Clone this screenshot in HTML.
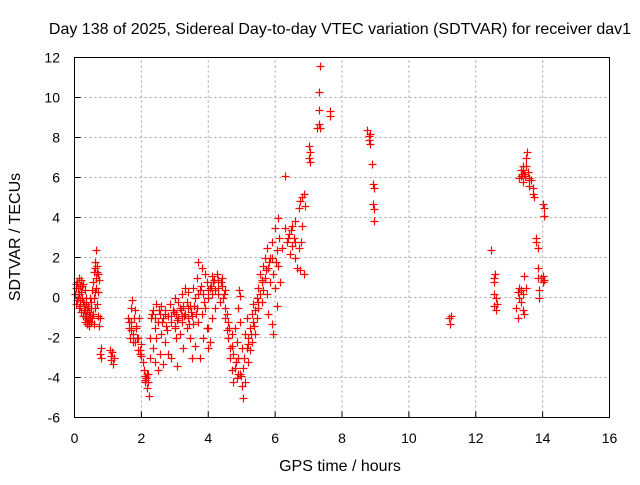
<!DOCTYPE html>
<html><head><meta charset="utf-8"><style>
body{margin:0;background:#fff}
svg text{font-family:"Liberation Sans",sans-serif;font-size:14px;fill:#000}
svg text.big{font-size:16px}
</style></head><body>
<svg id="chart" width="640" height="480" xmlns="http://www.w3.org/2000/svg">
<text class="big" x="340" y="34" text-anchor="middle">Day 138 of 2025, Sidereal Day-to-day VTEC variation (SDTVAR) for receiver dav1</text>
<text class="big" x="340" y="471" text-anchor="middle">GPS time / hours</text>
<text class="big" x="20" y="237" text-anchor="middle" transform="rotate(-90 20 237)">SDTVAR / TECUs</text>
<g id="grid"></g><g id="ticks"></g><g id="marks"></g>
<rect x="74.5" y="57.5" width="535" height="360" fill="none" stroke="#000" stroke-width="1"/>
</svg>
<script>
const xTicks=[0,2,4,6,8,10,12,14,16];
const yTicks=[-6,-4,-2,0,2,4,6,8,10,12];
const times=[0.02,0.05,0.05,0.08,0.1,0.12,0.12,0.15,0.15,0.18,0.2,0.2,0.22,0.25,0.25,0.28,0.3,0.3,0.32,0.35,0.35,0.38,0.4,0.42,0.42,0.45,0.45,0.48,0.5,0.5,0.52,0.55,0.55,0.58,0.58,0.6,0.6,0.62,0.63,0.65,0.65,0.68,0.68,0.7,0.7,0.72,0.72,0.75,0.75,0.78,0.78,0.33,0.37,0.4,0.44,
0.03,0.07,0.1,0.14,0.17,0.21,0.24,0.27,0.31,0.34,0.37,0.41,0.44,0.47,0.52,0.57,0.62,0.66,0.69,
1.05,1.08,1.1,1.12,1.15,1.18,
1.6,1.62,1.65,1.68,1.7,1.72,1.75,1.78,1.8,1.82,1.85,1.88,1.9,1.92,1.95,1.98,2.0,
1.64,1.7,1.76,1.83,1.9,1.97,
2.05,2.08,2.1,2.12,2.15,2.18,2.2,2.22,2.25,2.25,2.11,2.16,2.2,
2.3,2.35,2.35,2.4,2.4,2.45,2.45,2.5,2.5,2.55,2.55,2.6,2.6,2.65,2.65,2.7,2.7,2.75,2.8,2.8,
2.32,2.42,2.52,2.62,2.72,2.78,
2.85,2.9,2.9,2.95,3.0,3.0,3.05,3.05,3.1,3.1,3.15,3.15,3.2,3.2,3.25,3.25,3.3,3.3,3.35,3.35,3.4,3.4,3.45,3.45,3.5,3.5,3.55,3.55,3.6,3.6,3.65,3.65,3.7,3.7,3.75,3.75,3.8,3.8,3.85,3.85,3.9,3.9,3.95,3.95,4.0,4.0,3.07,
2.88,2.98,3.08,3.18,3.28,3.38,3.48,3.58,3.68,3.78,3.88,3.98,3.02,3.22,3.42,3.62,
4.05,4.1,4.1,4.15,4.2,4.2,4.25,4.3,4.3,4.35,4.4,4.4,4.45,4.5,4.5,4.0,4.05,4.1,
4.08,4.18,4.28,4.38,4.48,
4.5,4.55,4.55,4.6,4.6,4.65,4.65,4.7,4.7,4.75,4.75,4.8,4.8,4.85,4.85,4.9,4.9,4.95,4.95,5.0,5.0,5.05,5.05,5.1,5.1,4.92,4.95,
4.62,4.72,4.82,4.88,4.98,5.08,
5.15,5.15,5.2,5.2,5.25,5.25,5.3,5.3,5.35,5.35,5.4,5.4,5.45,5.45,5.5,5.5,
5.18,5.28,5.38,5.48,
5.55,5.55,5.6,5.6,5.65,5.65,5.7,5.7,5.75,5.75,5.8,5.8,5.85,5.85,5.9,5.9,5.95,5.95,6.0,6.0,6.05,6.05,6.1,6.1,6.15,6.2,
5.62,5.72,5.82,5.92,6.02,6.12,
6.3,6.3,6.35,6.4,6.45,6.5,6.5,6.55,6.6,6.6,6.65,6.7,6.7,6.75,6.75,6.8,6.8,6.85,6.85,6.9,
6.38,6.48,6.58,6.78,
7.0,7.0,7.05,7.05,7.25,7.3,7.3,7.32,7.35,7.35,7.65,7.65,
8.75,8.8,8.8,8.85,8.85,8.9,8.92,8.95,8.92,8.95,8.95,
11.2,11.22,11.25,
12.47,12.55,12.55,12.58,12.55,12.6,12.55,12.6,12.65,
13.2,13.25,13.25,13.3,13.3,13.35,13.35,13.4,13.4,13.45,13.45,13.5,
13.3,13.35,13.35,13.4,13.4,13.45,13.5,13.5,13.52,13.55,13.6,13.6,13.65,13.7,13.72,13.75,
13.38,13.42,13.48,13.58,
13.8,13.8,13.85,13.85,13.85,13.9,13.88,13.95,14.0,14.0,14.05,14.05,14.05,14.0];
const values=[0.2,0.5,-0.3,0.8,0.0,1.0,-0.5,0.6,-0.1,0.9,0.3,-0.7,0.0,0.7,-0.9,-0.3,0.4,-1.2,-0.6,-1.0,0.0,-1.3,-0.4,-1.4,-0.8,-1.0,0.0,-0.5,-1.2,-0.2,0.4,-0.8,0.8,1.3,0.0,1.8,-0.5,1.5,2.4,1.0,0.5,1.6,-0.3,1.2,-0.9,0.9,-1.4,-1.0,-2.8,-2.5,-3.0,-0.9,-1.2,-1.1,-0.7,
0.7,-0.1,0.5,0.2,-0.4,0.6,-0.2,-0.6,-0.9,-0.3,-0.6,-1.1,-1.3,-0.9,-1.0,-1.3,0.3,1.3,0.3,
-2.6,-2.9,-3.1,-2.7,-3.3,-3.0,
-1.0,-1.5,-2.0,-0.5,-1.2,-0.1,-1.8,-1.0,-2.2,-0.6,-1.4,-2.0,-2.6,-1.0,-2.8,-2.3,-2.9,
-1.2,-1.6,-2.2,-1.5,-2.0,-2.6,
-3.2,-3.6,-3.9,-4.2,-4.0,-4.5,-3.8,-4.9,-3.0,-2.0,-4.1,-3.8,-4.2,
-1.0,-0.6,-2.5,-1.5,-3.2,-0.3,-2.0,-1.2,-3.6,-0.8,-2.8,-0.4,-1.8,-1.0,-3.3,-0.6,-2.2,-1.4,-0.9,-2.8,
-0.8,-1.0,-0.6,-1.2,-0.8,-1.6,
-0.3,-1.2,-3.0,-0.6,-1.5,0.0,-0.8,-2.0,-0.2,-1.0,-0.5,-1.8,0.2,-1.2,-0.4,-2.5,-0.8,0.5,-1.5,-0.2,0.3,-1.0,-2.0,-0.4,-0.9,-3.0,0.5,-1.3,0.0,-2.4,-0.5,1.0,1.8,-1.2,0.4,-3.0,-0.8,1.5,-2.0,0.2,-0.5,1.2,-1.5,0.8,0.0,-2.5,-3.4,
-0.9,-0.7,-1.1,-0.6,-0.9,-0.5,-0.7,-0.4,0.2,0.6,-0.2,0.4,-1.4,-0.9,-1.3,-0.8,
0.5,0.2,1.1,0.8,0.4,-0.5,1.2,0.9,0.2,-0.2,0.6,1.0,0.0,-0.5,0.4,-1.5,-2.2,-1.0,
0.6,0.9,0.5,0.8,0.2,
-1.0,-1.6,-0.8,-2.0,-1.2,-2.5,-3.0,-3.6,-1.8,-4.2,-2.8,-3.5,-1.5,-4.0,-2.2,-3.0,-0.5,-1.2,-3.8,-4.4,-2.5,-5.0,-3.5,-4.2,-1.8,0.4,0.1,
-1.5,-2.4,-3.2,-3.8,-3.9,-3.0,
-2.5,-1.0,-2.0,-3.2,-1.5,-2.6,-0.8,-2.2,-1.2,-0.3,-0.6,-1.8,0.0,-1.0,-0.5,0.5,
-2.3,-1.8,-1.4,-0.2,
0.2,1.2,0.8,-0.2,1.6,0.4,2.0,1.0,0.2,2.5,1.5,-0.8,2.0,0.8,2.8,-1.3,1.2,-1.8,3.5,0.5,2.4,-0.4,4.0,1.6,0.8,2.5,
0.9,1.4,1.8,2.0,1.8,3.0,
6.1,3.5,2.8,3.2,2.2,3.6,2.6,3.0,3.8,2.0,1.5,4.5,2.5,4.8,1.4,5.0,3.6,5.2,1.2,4.6,
3.0,3.4,2.8,2.8,
7.6,7.0,7.3,6.8,8.5,8.7,9.4,10.3,11.6,8.5,9.1,9.3,
8.4,8.1,7.9,8.2,7.7,6.7,5.7,5.5,4.7,4.4,3.8,
-1.0,-1.3,-0.9,
2.4,1.0,0.8,1.2,0.2,0.0,-0.4,-0.6,-0.3,
-0.5,-1.0,0.3,0.5,0.0,-0.2,0.4,-0.6,0.2,1.1,-0.8,0.5,
6.0,6.4,6.1,5.8,6.6,6.2,7.0,6.6,7.3,6.3,6.0,5.6,5.9,5.2,5.5,5.0,
6.2,6.4,6.1,5.9,
3.0,2.8,2.5,1.5,1.0,0.4,0.0,1.0,0.8,1.1,0.9,4.5,4.1,4.7];
const NS="http://www.w3.org/2000/svg";
const X0=74.5,X1=609.5,Y0=417.5,Y1=57.5;
const xs=t=>X0+(t-0)/(16-0)*(X1-X0);
const ys=v=>Y0-(v+6)/(12+6)*(Y0-Y1);
const grid=document.getElementById('grid'),ticks=document.getElementById('ticks'),marks=document.getElementById('marks');
function mk(tag,attrs,parent){const e=document.createElementNS(NS,tag);for(const k in attrs)e.setAttribute(k,attrs[k]);parent.appendChild(e);return e;}
xTicks.forEach(t=>{
  const x=xs(t);
  if(t>0&&t<16){const g=mk('line',{x1:x,x2:x,y1:Y0,y2:Y1,stroke:'#a0a0a0','stroke-dasharray':'2,3'},grid);
  
  }
  const l=mk('line',{x1:x,x2:x,y1:Y0,y2:Y0-6,stroke:'#000'},ticks);
  
  
  const tx=mk('text',{x:x,y:443,'text-anchor':'middle'},ticks);tx.textContent=t;
  
  
});
yTicks.forEach(v=>{
  const y=ys(v);
  if(v>-6&&v<12){const g=mk('line',{x1:X0,x2:X1,y1:y,y2:y,stroke:'#a0a0a0','stroke-dasharray':'2,3'},grid);
  
  }
  const l=mk('line',{x1:X0,x2:X0+6,y1:y,y2:y,stroke:'#000'},ticks);
  
  
  const tx=mk('text',{x:60,y:y+5,'text-anchor':'end'},ticks);tx.textContent=v;
  
  
});
times.forEach((t,i)=>{
  const x=Math.round(xs(t))+0.5,y=Math.round(ys(values[i]))+0.5;
  const p=mk('path',{d:`M${x-4},${y}h8M${x},${y-4}v8`,stroke:'#ff0000','stroke-width':1.2,fill:'none'},marks);
  
  
});
</script>
</body></html>
